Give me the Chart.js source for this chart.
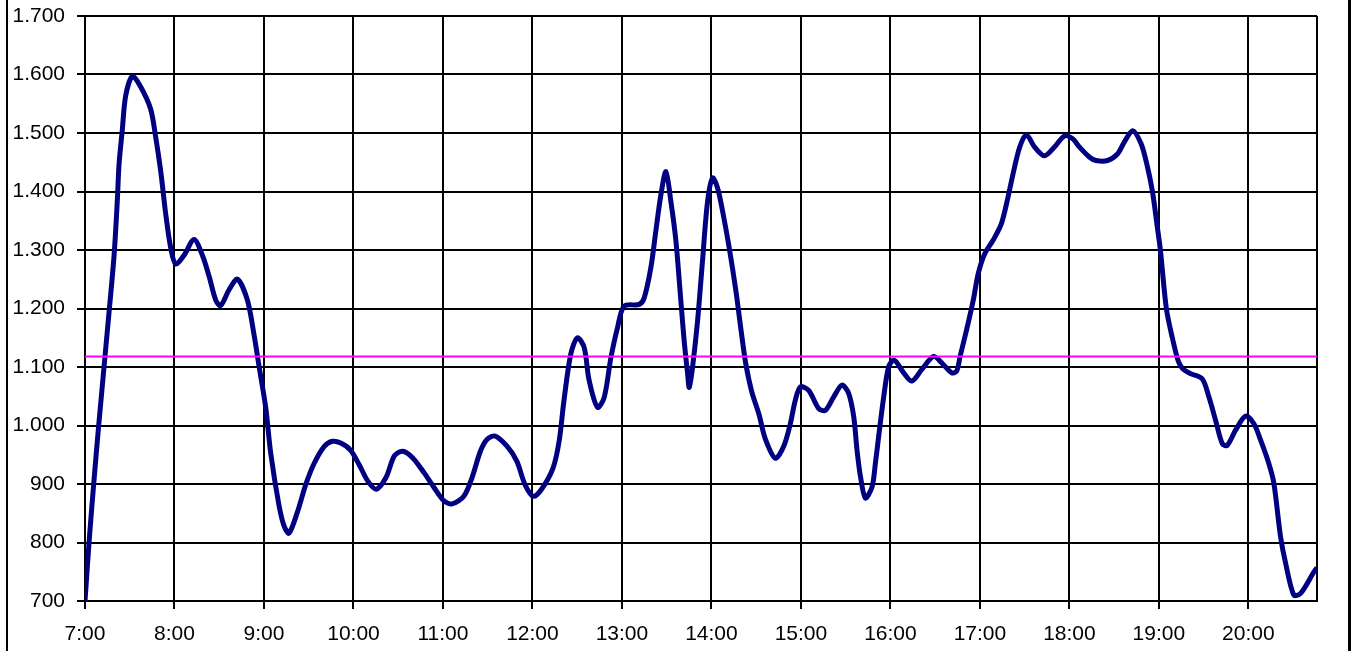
<!DOCTYPE html>
<html lang="de">
<head>
    <meta charset="UTF-8">
    <title>Tagesgang</title>
    <script src="https://cdn.jsdelivr.net/npm/chart.js"></script>
    <style>
        html, body { margin: 0; padding: 0; background: #fff; }
        #wrap { position: relative; width: 1351px; height: 651px; }
        #frame {
            position: absolute; left: 6px; top: 0; width: 1340px; height: 651px;
            border-left: 2px solid #000; border-right: 3px solid #000;
            pointer-events: none;
        }
    </style>
</head>
<body>
<div id="wrap">
    <canvas id="chart"></canvas>
    <div id="frame"></div>
</div>
<script>
// minutes after 7:00
var minutes = [0, 3, 6, 9, 16, 19.5, 21.7, 22.8, 25, 27.3, 31.8, 37.3, 44, 47.4, 50.8, 54.1, 57.5, 60.8,
    66.4, 73.1, 78.7, 83.2, 87.7, 91, 96.6, 102.2, 108.9, 113.4, 116.7, 121.2, 124.5, 130.1, 133.5,
    136.8, 142.4, 148, 153.6, 160.3, 165.9, 171.5, 178, 184, 189.6, 195.2, 201.8, 207.4, 212.9, 219.6,
    227.4, 234, 240.7, 246.2, 254, 259.5, 265.1, 269.5, 275, 282.8, 289.5, 295, 300.6, 306.1, 313.9,
    318, 321, 325.7, 330.2, 334.7, 338, 343.6, 348.1, 352.6, 357, 361.5, 371.6, 374.9, 379.4, 382.7,
    386.1, 389.5, 392.8, 396.2, 399.5, 401.7, 404, 405.1, 407.3, 410.7, 414, 417.4, 420.8, 424.1,
    427.5, 431.9, 436.4, 440, 443, 447, 452, 456, 462.8, 468.4, 472.9, 476.2, 479.6, 485.2, 491.9,
    496.4, 502, 507.5, 512, 515.4, 517.6, 519.9, 523.2, 527.7, 529.9, 532.1, 535.5, 538.8, 542.5,
    548.9, 554.4, 561.1, 568.9, 574.4, 581.1, 584.4, 586.7, 591.1, 595.6, 598.9, 603.3, 608.9, 614.4,
    618.9, 622.2, 626.7, 631.1, 636.7, 643.3, 650, 656.7, 662.2, 666.7, 673.3, 677.8, 685.6, 692.2,
    696.7, 702.5, 708, 711.8, 715.6, 718.9, 721, 725, 729, 733, 736, 741, 749, 753.5, 758, 762.5,
    765.8, 771.4, 778.1, 783.7, 788.2, 793.7, 797.1, 801.6, 805, 810.5, 815, 824, 826];

var load = [700, 810, 905, 995, 1190, 1291, 1386, 1446, 1505, 1564, 1597, 1579, 1541, 1493, 1434, 1362, 1303, 1276,
    1291, 1318, 1291, 1255, 1214, 1205, 1232, 1250, 1214, 1154, 1101, 1030, 953, 863, 828,
    816, 852, 899, 935, 964, 973, 970, 958, 932, 905, 891, 911, 948, 956, 945,
    919, 894, 871, 866, 879, 911, 956, 976, 982, 965, 939, 899, 879, 891, 928,
    975, 1040, 1122, 1150, 1133, 1077, 1031, 1048, 1116, 1167, 1204, 1207, 1218, 1270, 1332,
    1394, 1434, 1383, 1315, 1213, 1145, 1089, 1065, 1099, 1179, 1281, 1383, 1423, 1406,
    1366, 1304, 1230, 1160, 1106, 1058, 1018, 978, 944, 964, 1003, 1043, 1066, 1060, 1029,
    1026, 1049, 1069, 1055, 1015, 958, 913, 876, 895, 935, 981, 1049, 1100, 1112,
    1090, 1076, 1096, 1118, 1107, 1090, 1093, 1118, 1164, 1215, 1260, 1294, 1317, 1345,
    1391, 1430, 1476, 1497, 1476, 1461, 1476, 1495, 1490, 1476, 1459, 1453, 1453, 1464,
    1484, 1504, 1482, 1448, 1401, 1340, 1300, 1200, 1150, 1110, 1097, 1089, 1080, 1049, 1009, 969,
    966, 992, 1016, 1003, 975, 935, 901, 809, 764, 710, 713, 750, 757];

var meanLevel = 1118;
var hourLabels = ['7:00', '8:00', '9:00', '10:00', '11:00', '12:00', '13:00', '14:00',
    '15:00', '16:00', '17:00', '18:00', '19:00', '20:00'];
var yMin = 700, yMax = 1700, xMax = 826;

function fmtThousands(v) {
    if (v < 1000) return String(v);
    return Math.floor(v / 1000) + '.' + String(v % 1000).padStart(3, '0');
}

var points = minutes.map(function (m, i) { return { x: m, y: load[i] }; });

Chart.defaults.font.family = '"Liberation Sans", Arial, sans-serif';
Chart.defaults.font.size = 21;
Chart.defaults.color = '#000';

new Chart(document.getElementById('chart'), {
    type: 'line',
    data: {
        datasets: [
            {
                data: points,
                borderColor: '#000080',
                borderWidth: 5,
                pointRadius: 0,
                tension: 0.3,
                fill: false,
                order: 2
            },
            {
                data: [{ x: 0, y: meanLevel }, { x: xMax, y: meanLevel }],
                borderColor: '#ff00ff',
                borderWidth: 2,
                pointRadius: 0,
                fill: false,
                order: 1
            }
        ]
    },
    options: {
        responsive: true,
        maintainAspectRatio: false,
        animation: false,
        layout: { padding: { left: 0, top: 16, right: 34, bottom: 0 } },
        plugins: { legend: { display: false }, tooltip: { enabled: false } },
        scales: {
            x: {
                type: 'linear',
                min: 0,
                max: xMax,
                afterFit: function (s) { s.height = 50; s.paddingLeft = 0; s.paddingRight = 0; },
                border: { color: '#000', width: 2 },
                grid: {
                    color: '#000',
                    lineWidth: 2,
                    tickLength: 8,
                    tickColor: function (c) { return c.tick && c.tick.value % 60 === 0 ? '#000' : 'rgba(0,0,0,0)'; }
                },
                ticks: {
                    stepSize: 60,
                    padding: 13,
                    maxRotation: 0,
                    autoSkip: false,
                    callback: function (v) { return v % 60 === 0 ? hourLabels[v / 60] : ''; }
                }
            },
            y: {
                min: yMin,
                max: yMax,
                afterFit: function (s) { s.width = 85; s.paddingTop = 0; s.paddingBottom = 0; },
                border: { color: '#000', width: 2 },
                grid: { color: '#000', lineWidth: 2, tickLength: 8 },
                ticks: {
                    stepSize: 100,
                    padding: 12,
                    callback: function (v) { return fmtThousands(v); }
                }
            }
        }
    }
});
</script>
</body>
</html>
